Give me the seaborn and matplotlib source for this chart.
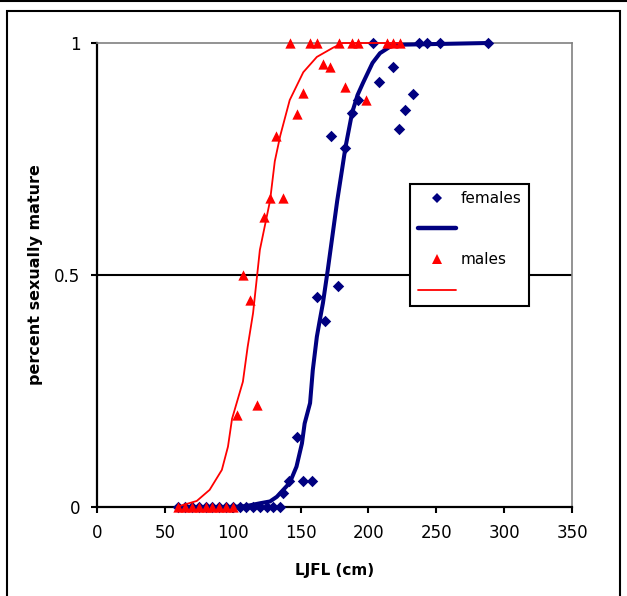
import matplotlib
matplotlib.use("Agg")
import matplotlib.pyplot as plt
import seaborn as sns
from matplotlib.lines import Line2D
from matplotlib.patches import Rectangle

# observed females (LJFL cm, proportion mature)
females_x = [60, 65, 70, 75, 80, 85, 90, 95, 100, 105, 110, 115, 120, 125, 130, 135,
             137, 141.5, 147.5, 152, 158.5, 162, 168, 172.5, 177.5, 183, 188, 192,
             203, 208, 218, 222.5, 227, 233, 237, 243, 253, 288]
females_y = [0, 0, 0, 0, 0, 0, 0, 0, 0, 0, 0, 0, 0, 0, 0, 0,
             0.03, 0.055, 0.15, 0.056, 0.055, 0.453, 0.40, 0.80, 0.476, 0.774, 0.849, 0.877,
             1, 0.916, 0.948, 0.815, 0.856, 0.89, 1, 1, 1, 1]

# observed males
males_x = [60, 65, 70, 75, 80, 85, 90, 95, 100,
           103, 107.5, 112.5, 118, 123, 127.5, 132, 137, 142, 147.5, 152, 157, 162,
           166.5, 172, 178, 183, 188, 192, 198, 214, 218, 223]
males_y = [0, 0, 0, 0, 0, 0, 0, 0, 0,
           0.198, 0.50, 0.446, 0.22, 0.625, 0.666, 0.80, 0.666, 1, 0.847, 0.892, 1, 1,
           0.955, 0.948, 1, 0.905, 1, 1, 0.877, 1, 1, 1]

# fitted curves
fem_fit_x = [60, 100, 110, 120, 127.5, 132.5, 142, 147, 151, 153, 157, 159, 162, 164,
             166.5, 170, 177, 180.5, 183, 188, 192, 196, 203, 208.5, 218, 288]
fem_fit_y = [0, 0, 0.002, 0.008, 0.012, 0.022, 0.052, 0.087, 0.137, 0.18, 0.224, 0.295,
             0.367, 0.40, 0.44, 0.51, 0.66, 0.726, 0.774, 0.85, 0.888, 0.914, 0.957,
             0.978, 0.996, 1.0]

male_fit_x = [59, 63, 73.5, 83, 92, 96.5, 99.5, 104, 107.5, 111, 115, 120, 127.5, 131,
              135, 142, 152, 162, 174, 181, 223]
male_fit_y = [0, 0.004, 0.013, 0.037, 0.08, 0.13, 0.19, 0.235, 0.27, 0.345, 0.418,
              0.554, 0.66, 0.745, 0.80, 0.877, 0.937, 0.97, 0.99, 1.0, 1.0]

x_ticks = [0, 50, 100, 150, 200, 250, 300, 350]
y_ticks = [0, 0.5, 1]
y_tick_labels = ["0", "0.5", "1"]

NAVY = "#000080"
RED = "#FF0000"

sns.set_style("white")
plt.rcParams["font.family"] = ["DejaVu Sans"]
plt.rcParams["text.color"] = "black"
plt.rcParams["axes.labelcolor"] = "black"
plt.rcParams["xtick.color"] = "black"
plt.rcParams["ytick.color"] = "black"

fig = plt.figure(figsize=(6.27, 5.96), dpi=100)
ax = fig.add_axes([97 / 627, 89 / 596, 475 / 627, 464 / 596])

ax.axhline(0.5, color="black", lw=1.5, zorder=1)

sns.scatterplot(x=females_x, y=females_y, marker="D", color=NAVY, s=34,
                linewidth=0, clip_on=False, zorder=3, ax=ax)
sns.lineplot(x=fem_fit_x, y=fem_fit_y, color=NAVY, linewidth=2.9, sort=False,
             estimator=None, clip_on=False, zorder=4, ax=ax)
sns.scatterplot(x=males_x, y=males_y, marker="^", color=RED, s=55,
                linewidth=0, clip_on=False, zorder=5, ax=ax)
sns.lineplot(x=male_fit_x, y=male_fit_y, color=RED, linewidth=1.3, sort=False,
             estimator=None, clip_on=False, zorder=6, ax=ax)

ax.set_xlim(0, 350)
ax.set_ylim(0, 1)
ax.set_xticks(x_ticks)
ax.set_yticks(y_ticks)
ax.set_yticklabels(y_tick_labels)
ax.tick_params(direction="out", length=4, width=1.5, color="black",
               labelcolor="black", labelsize=12, pad=8, bottom=True, left=True)

for side in ["left", "bottom"]:
    ax.spines[side].set_color("black")
    ax.spines[side].set_linewidth(1.6)
for side in ["top", "right"]:
    ax.spines[side].set_color("#808080")
    ax.spines[side].set_linewidth(1.2)

ax.set_xlabel("LJFL (cm)", fontsize=11, fontweight="bold", labelpad=15)
ax.set_ylabel("percent sexually mature", fontsize=11.5, fontweight="bold", labelpad=8)

handles = [
    Line2D([], [], marker="D", color=NAVY, linestyle="none", markersize=5.5, markeredgewidth=0),
    Line2D([], [], color=NAVY, linewidth=3.2),
    Line2D([], [], marker="^", color=RED, linestyle="none", markersize=7.5, markeredgewidth=0),
    Line2D([], [], color=RED, linewidth=1.3),
]
labels = ["females", "", "males", ""]
leg = ax.legend(handles, labels, loc="upper left", bbox_to_anchor=(0.659, 0.697),
                fontsize=11, frameon=True, fancybox=False, framealpha=1,
                edgecolor="black", borderpad=0.5, labelspacing=1.02,
                handlelength=2.5, handletextpad=0.3, borderaxespad=0)
leg.get_frame().set_linewidth(1.5)

# outer frame of the chart area
fig.add_artist(Line2D([0, 1], [0.999, 0.999], transform=fig.transFigure,
                      color="black", lw=1.5))
fig.add_artist(Rectangle((7 / 627, -0.1), 613 / 627, 1.1 - 11 / 596,
                         transform=fig.transFigure, fill=False,
                         edgecolor="black", lw=1.5))

fig.savefig("out.png", dpi=100)
